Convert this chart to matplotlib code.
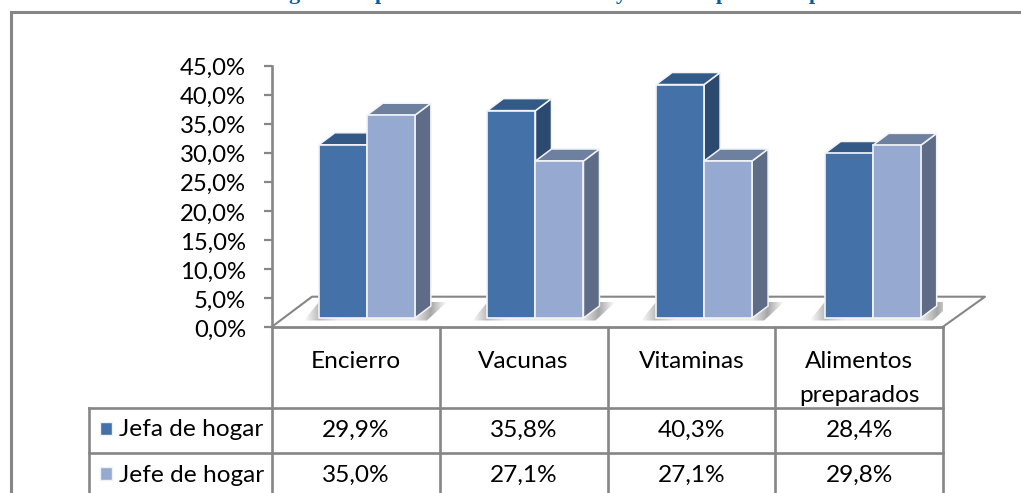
import numpy as np
import matplotlib
matplotlib.use("Agg")
import matplotlib.pyplot as plt
from matplotlib.patches import Polygon, Rectangle
from matplotlib.transforms import blended_transform_factory, ScaledTranslation

categories = ["Encierro", "Vacunas", "Vitaminas", "Alimentos\npreparados"]
series_names = ["Jefa de hogar", "Jefe de hogar"]
jefa = [29.9, 35.8, 40.3, 28.4]
jefe = [35.0, 27.1, 27.1, 29.8]
y_ticks = [0, 5, 10, 15, 20, 25, 30, 35, 40, 45]
title_fragments = [("g", 288), ("p", 375), ("y", 616), ("p", 716), ("p", 809)]

FRONT = ["#4571A9", "#95A9D1"]
TOP = ["#335A87", "#6E809F"]
SIDE = ["#2C4A6F", "#5E6C87"]
GRID = "#868686"
FS = 17.2
FS_T = 17.6
plt.rcParams["font.family"] = ["Lato", "DejaVu Sans"]

W, H = 1021, 493
fig = plt.figure(figsize=(W / 100, H / 100), dpi=100, facecolor="white")

# page-level axes in pixel units: frame and table rules
pg = fig.add_axes([0, 0, 1, 1])
pg.set_xlim(0, W)
pg.set_ylim(H, 0)
pg.axis("off")

# chart axes: x in categories, y in percent
L, R, Y0, Y1 = 272, 943, 326.7, 66
ax = fig.add_axes([L / W, 1 - Y0 / H, (R - L) / W, (Y0 - Y1) / H])
ax.patch.set_alpha(0)
sx = (R - L) / 4
sy = (Y0 - Y1) / 45
dx, dy = 16 / sx, 12 / sy
lift = 1.5
bw = 48 / sx
off = 11 / sx
step = 168.6 / sx

# frame
pg.plot([10.5, 10.5, W], [H, 12, 12], color=GRID, lw=2.2, solid_joinstyle="miter")

# floor
fx = [0, 40 / sx, 4 + 42 / sx, 4]
fy = [0, 30 / sy, 30 / sy, 0]
ax.plot(fx, fy, color=GRID, lw=1.5, clip_on=False, zorder=1)

# table rules
edges = np.arange(5)
tb = blended_transform_factory(ax.transData, pg.transData)
row_y = [408, 453]
for e in edges:
    ax.plot([e, e], [327, H], transform=tb, color=GRID, lw=1.9, clip_on=False, zorder=2)
ax.plot([0, 4], [327, 327], transform=tb, color=GRID, lw=2.0, clip_on=False, zorder=2)
for r in row_y:
    pg.plot([89, R], [r, r], color=GRID, lw=1.9)
pg.plot([89, 89], [row_y[0], H], color=GRID, lw=1.9)

# bars
for s, vals in enumerate([jefa, jefe]):
    xs = 0.5 + off + np.arange(4) * step + (s - 1) * bw
    for x, v in zip(xs, vals):
        t = v + lift
        ax.add_patch(Polygon([[x + bw, lift], [x + bw + dx, lift + dy], [x + bw + dx, t + dy], [x + bw, t]],
                             fc=SIDE[s], ec="#F2F4F8", lw=1.1, zorder=4 + s * 2, clip_on=False))
        ax.add_patch(Polygon([[x, t], [x + dx, t + dy], [x + bw + dx, t + dy], [x + bw, t]],
                             fc=TOP[s], ec="#F2F4F8", lw=1.1, zorder=4 + s * 2, clip_on=False))
    ax.bar(xs, vals, width=bw, bottom=lift, align="edge", color=FRONT[s], edgecolor="#F2F4F8",
           linewidth=1.2, zorder=5 + s * 2, clip_on=False)

# soft shadow on the floor
for i in range(4):
    x0 = 0.5 + off + i * step - bw
    x1 = x0 + 2 * bw
    a, b = x0 - 15 / sx, x1 + 32 / sx
    low, high = lift - 2.5 / sy, lift + 16 / sy
    xx = np.linspace(a, b, 256)
    alpha = np.interp(xx, [a, x0, x0 + 20 / sx, x1, x1 + dx, b], [0, .55, .15, .15, .7, 0])
    img = np.ones((1, 256, 4)) * 0.5
    img[..., 3] = alpha
    im = ax.imshow(img, extent=(a, b, low, high), aspect="auto", zorder=3, interpolation="bilinear")
    clip = Polygon([[a, low], [x1 + 12 / sx, low], [b, high], [x0, high]],
                   transform=ax.transData, fc="none", ec="none")
    ax.add_patch(clip)
    im.set_clip_path(clip)

ax.set_xlim(0, 4)
ax.set_ylim(0, 45)
for k in ("top", "right", "bottom"):
    ax.spines[k].set_visible(False)
ax.spines["left"].set_color(GRID)
ax.spines["left"].set_linewidth(1.9)
ax.set_xticks([])
ax.set_yticks(y_ticks)
ax.set_yticklabels([f"{v:.1f}%".replace(".", ",") for v in y_ticks], fontsize=FS, color="black")
ax.tick_params(axis="y", length=5.8, width=1.6, color=GRID, pad=13)
# the labels sit a little lower than their ticks, more so towards the bottom
for v, lab in zip(y_ticks, ax.get_yticklabels()):
    shift = ScaledTranslation(0, -(2 - 2 * v / 45) / 100, fig.dpi_scale_trans)
    lab.set_transform(lab.get_transform() + shift)

# table text
for i, c in enumerate(categories):
    if "\n" in c:
        a_, b_ = c.split("\n")
        ax.text(i + .5, 362, a_, transform=tb, ha="center", va="center", fontsize=FS_T, clip_on=False)
        ax.text(i + .5, 395, b_, transform=tb, ha="center", va="center", fontsize=FS_T, clip_on=False)
    else:
        ax.text(i + .5, 362, c, transform=tb, ha="center", va="center", fontsize=FS_T, clip_on=False)
for r, (vals, ty) in enumerate(zip([jefa, jefe], [430, 475])):
    for i, v in enumerate(vals):
        ax.text(i + .5, ty, f"{v:.1f}%".replace(".", ","), transform=tb, ha="center", va="center",
                fontsize=FS_T, clip_on=False)
    pg.add_patch(Rectangle((99.5, ty - 8), 12.5, 12.5, fc=FRONT[r], ec="#EEF1F7", lw=1))
    pg.text(119, ty, series_names[r], ha="left", va="center", fontsize=FS_T)

# the title is cut off by the top of the image; only its descenders show
for g, x in title_fragments:
    pg.text(x, -1, g, ha="left", va="baseline", family="Liberation Serif", weight="bold", fontsize=16, color="#0B5CA3")

fig.savefig("out.png", dpi=100)
